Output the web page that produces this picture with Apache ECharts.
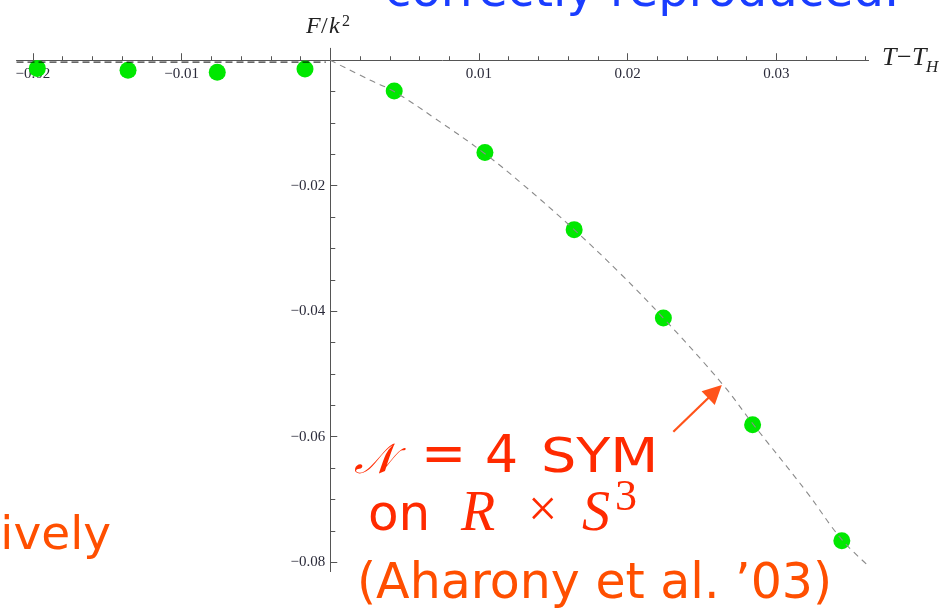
<!DOCTYPE html>
<html>
<head>
<meta charset="utf-8">
<script src="https://cdn.jsdelivr.net/npm/echarts@6/dist/echarts.min.js"></script>
<style>
  html, body { margin: 0; padding: 0; background: #ffffff; }
  #chart { width: 951px; height: 611px; }
</style>
</head>
<body>
<div id="chart"></div>
<script>
// Lattice free energy F/k^2 against T - T_H
const tempOffset = [-0.0197, -0.0136, -0.0076, -0.0017, 0.0043, 0.0104, 0.0164, 0.0224, 0.0284, 0.0344];
const freeEnergy = [-0.0013, -0.0016, -0.0019, -0.0014, -0.0049, -0.0147, -0.0270, -0.0411, -0.0581, -0.0766];

// Weak-coupling prediction above T_H (dashed gray curve)
const curveT = [0, 0.0027, 0.0043, 0.0070, 0.0104, 0.0130, 0.0164, 0.0195, 0.0224, 0.0264, 0.0284, 0.0320, 0.0344, 0.0363];
const curveF = [0, -0.0032, -0.0050, -0.0092, -0.0149, -0.0199, -0.0270, -0.0340, -0.0411, -0.0517, -0.0579, -0.0687, -0.0764, -0.0808];

// Confined branch below T_H (dashed black line)
const flatT = [-0.0211, -0.0003];
const flatF = [-0.0003, -0.0003];

// Tick positions
const xMajorTicks = [-0.02, -0.01, 0.01, 0.02, 0.03];
const xMinorTicks = [-0.018, -0.016, -0.014, -0.012, -0.008, -0.006, -0.004, -0.002,
  0.002, 0.004, 0.006, 0.008, 0.012, 0.014, 0.016, 0.018, 0.022, 0.024, 0.026, 0.028,
  0.032, 0.034, 0.036];
const yMajorTicks = [-0.02, -0.04, -0.06, -0.08];
const yMinorTicks = [-0.005, -0.01, -0.015, -0.025, -0.03, -0.035, -0.045, -0.05, -0.055,
  -0.065, -0.07, -0.075];

// Annotation arrow: tail and tip in data units (tip sits on the curve)
const arrowTail = [0.02307, -0.0592];
const arrowTip = [0.02633, -0.05176];

const axisColor = '#555555';
const labelFont = { fontFamily: 'Liberation Serif', fontSize: 15, color: '#2b2b3a' };
const fmt = v => (v < 0 ? '\u2212' + Math.abs(v) : String(v));

const W = 951, H = 611;
const grid = { left: 16.5, right: 82.4, top: 48.3, bottom: 39.4 };
const gridW = W - grid.left - grid.right;
const gridH = H - grid.top - grid.bottom;
const xRange = { min: -0.0211, max: 0.0362 };
const yRange = { min: -0.0815, max: 0.0019 };

// Axes cross at the origin: shift each axis from the grid edge to zero
const xAxisShift = -(0 - yRange.min) / (yRange.max - yRange.min) * gridH;
const yAxisShift = -(0 - xRange.min) / (xRange.max - xRange.min) * gridW;

const chart = echarts.init(document.getElementById('chart'), null, { renderer: 'canvas' });

function xAxisDef(ticks, tickLen, withLabels, withLine) {
  return {
    type: 'value', min: xRange.min, max: xRange.max, position: 'bottom', offset: xAxisShift,
    axisLine: { show: withLine, onZero: false, lineStyle: { color: axisColor, width: 1 } },
    axisTick: { show: true, inside: true, length: tickLen, customValues: ticks, lineStyle: { color: axisColor } },
    axisLabel: withLabels
      ? Object.assign({ show: true, customValues: ticks, margin: 6, formatter: fmt }, labelFont)
      : { show: false },
    splitLine: { show: false }
  };
}
function yAxisDef(ticks, tickLen, withLabels, withLine) {
  return {
    type: 'value', min: yRange.min, max: yRange.max, position: 'left', offset: yAxisShift,
    axisLine: { show: withLine, onZero: false, lineStyle: { color: axisColor, width: 1 } },
    axisTick: { show: true, inside: true, length: tickLen, customValues: ticks, lineStyle: { color: axisColor } },
    axisLabel: withLabels
      ? Object.assign({ show: true, customValues: ticks, margin: 5, formatter: fmt }, labelFont)
      : { show: false },
    splitLine: { show: false }
  };
}

chart.setOption({
  animation: false,
  backgroundColor: '#ffffff',
  grid: Object.assign({ containLabel: false, outerBoundsMode: 'none' }, grid),
  xAxis: [xAxisDef(xMajorTicks, 7, true, true), xAxisDef(xMinorTicks, 4, false, false)],
  yAxis: [yAxisDef(yMajorTicks, 7, true, true), yAxisDef(yMinorTicks, 5, false, false)],
  series: [
    {
      name: 'confined', type: 'line', xAxisIndex: 0, yAxisIndex: 0,
      data: flatT.map((t, i) => [t, flatF[i]]),
      showSymbol: false, silent: true,
      lineStyle: { color: '#000000', width: 1, type: [7, 4] }
    },
    {
      name: 'prediction', type: 'line', xAxisIndex: 0, yAxisIndex: 0,
      data: curveT.map((t, i) => [t, curveF[i]]),
      showSymbol: false, silent: true, smooth: 0.4,
      lineStyle: { color: '#8a8a8a', width: 1.1, type: [6, 5] }
    },
    {
      name: 'lattice', type: 'scatter', xAxisIndex: 0, yAxisIndex: 0,
      data: tempOffset.map((t, i) => [t, freeEnergy[i]]),
      symbol: 'circle', symbolSize: 17,
      itemStyle: { color: '#00e800', opacity: 1 }
    }
  ]
});

// Text helper: places a token by its alphabetic baseline
const MID = { 'DejaVu Sans': 0.346, 'DejaVu Serif': 0.346, 'Liberation Serif': 0.3375 };
function tok(text, x, baseline, size, family, italic, color, extra, align) {
  return Object.assign({
    type: 'text', x: x, y: baseline - MID[family] * size,
    style: {
      text: text, fontFamily: family, fontSize: size, fontStyle: italic ? 'italic' : 'normal',
      fill: color, textAlign: align || 'left', textVerticalAlign: 'middle'
    }
  }, extra || {});
}

const red = '#ff2a00';
const orange = '#ff4f00';
const ink = '#222222';

// Arrow pointing at the curve
const tail = chart.convertToPixel({ gridIndex: 0 }, arrowTail);
const tip = chart.convertToPixel({ gridIndex: 0 }, arrowTip);
const dx = tip[0] - tail[0], dy = tip[1] - tail[1];
const len = Math.hypot(dx, dy);
const ux = dx / len, uy = dy / len;
const headLen = 19, headHalf = 9.5;
const bx = tip[0] - ux * headLen, by = tip[1] - uy * headLen;

chart.setOption({
  graphic: [
    // axis titles
    tok('F', 306, 35, 24, 'Liberation Serif', true, ink),
    tok('/', 321, 35, 24, 'Liberation Serif', false, ink),
    tok('k', 329, 35, 24, 'Liberation Serif', true, ink),
    tok('2', 342, 27, 16, 'Liberation Serif', false, ink),
    tok('T', 882, 67, 26, 'Liberation Serif', true, ink),
    tok('\u2212', 897, 67, 26, 'Liberation Serif', false, ink),
    tok('T', 912, 67, 26, 'Liberation Serif', true, ink),
    tok('H', 926, 73, 17, 'Liberation Serif', true, ink),
    // slide text around the plot
    tok('correctly reproduced.', 385, 10.6, 48, 'DejaVu Sans', false, '#1a3dff'),
    tok('tively', 111, 553, 47, 'DejaVu Sans', false, orange, null, 'right'),
    tok('\uD835\uDCA9', 354, 477, 42, 'DejaVu Serif', true, red),
    tok('=', 421, 476, 54, 'DejaVu Sans', false, red),
    tok('4', 485, 476, 52, 'DejaVu Sans', false, red),
    tok('SYM', 541, 476, 48, 'DejaVu Sans', false, red, { scaleX: 1.16, originX: 0, originY: 0 }),
    tok('on', 368, 534.6, 50, 'DejaVu Sans', false, red),
    tok('R', 461, 534.6, 56, 'Liberation Serif', true, red),
    tok('\u00D7', 528, 530, 52, 'Liberation Serif', false, red),
    tok('S', 582, 534.6, 56, 'Liberation Serif', true, red),
    tok('3', 615, 513.5, 44, 'Liberation Serif', false, red),
    tok('(Aharony et al. \u201903)', 357, 602.6, 49, 'DejaVu Sans', false, orange),
    // arrow
    {
      type: 'line', silent: true,
      shape: { x1: tail[0], y1: tail[1], x2: bx + ux * 2, y2: by + uy * 2 },
      style: { stroke: '#ff531a', lineWidth: 2.2 }
    },
    {
      type: 'polygon', silent: true,
      shape: { points: [[tip[0], tip[1]], [bx - uy * headHalf, by + ux * headHalf], [bx + uy * headHalf, by - ux * headHalf]] },
      style: { fill: '#ff531a' }
    }
  ]
});
</script>
</body>
</html>
